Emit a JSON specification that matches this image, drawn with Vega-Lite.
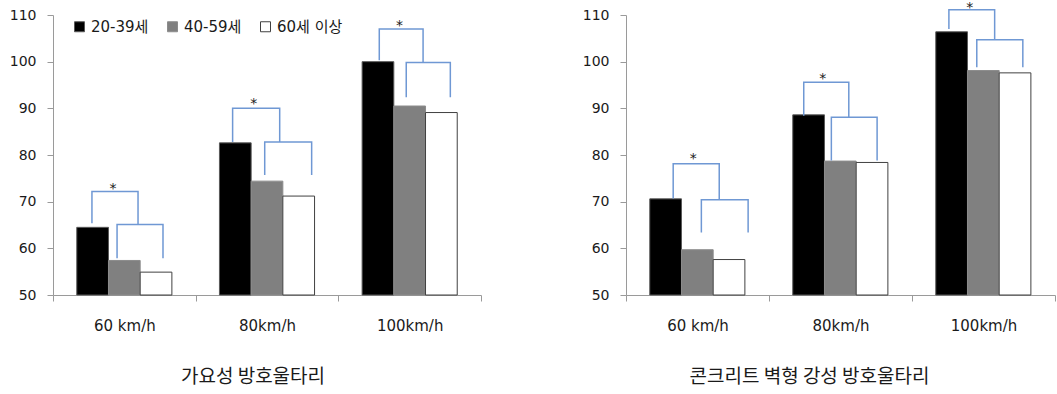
{
  "$schema": "https://vega.github.io/schema/vega-lite/v6.json",
  "padding": {"left": 9, "top": 0, "right": 0, "bottom": 0},
  "background": "white",
  "spacing": 100,
  "config": {
    "view": {"stroke": null},
    "axis": {"domainColor": "#9a9a9a", "tickColor": "#9a9a9a", "labelColor": "#1a1a1a", "labelFont": "DejaVu Sans", "grid": false, "tickSize": 6},
    "axisY": {"labelFontSize": 14, "labelPadding": 11},
    "axisX": {"labelFontSize": 15, "labelPadding": 17, "labelAngle": 0, "tickBand": "extent"},
    "legend": {"orient": "none", "direction": "horizontal", "symbolType": "square", "symbolSize": 100, "labelFontSize": 15, "labelFont": "DejaVu Sans, Noto Sans CJK KR", "labelColor": "#1a1a1a", "columnPadding": 16, "labelOffset": 4, "symbolStrokeWidth": 1},
    "title": {"font": "Noto Sans CJK KR", "fontSize": 19, "fontWeight": "normal", "color": "#1a1a1a", "orient": "bottom", "anchor": "middle", "frame": "group", "offset": 35}
  },
  "hconcat": [
    {
      "width": 428,
      "height": 280,
      "title": {"text": "가요성 방호울타리", "dx": -14},
      "layer": [
        {
          "data": {"values": [
            {"speed": "60 km/h", "age": "20-39세", "value": 64.5},
            {"speed": "60 km/h", "age": "40-59세", "value": 57.4},
            {"speed": "60 km/h", "age": "60세 이상", "value": 54.9},
            {"speed": "80km/h", "age": "20-39세", "value": 82.6},
            {"speed": "80km/h", "age": "40-59세", "value": 74.4},
            {"speed": "80km/h", "age": "60세 이상", "value": 71.2},
            {"speed": "100km/h", "age": "20-39세", "value": 100.0},
            {"speed": "100km/h", "age": "40-59세", "value": 90.5},
            {"speed": "100km/h", "age": "60세 이상", "value": 89.1}
          ]},
          "mark": {"type": "bar", "strokeWidth": 1},
          "encoding": {
            "x": {"field": "speed", "type": "nominal", "sort": ["60 km/h", "80km/h", "100km/h"], "scale": {"paddingInner": 0, "paddingOuter": 0}, "axis": {"title": null}},
            "xOffset": {"field": "age", "type": "nominal", "sort": ["20-39세", "40-59세", "60세 이상"], "scale": {"paddingInner": 0, "paddingOuter": 0.75}},
            "y": {"field": "value", "type": "quantitative", "scale": {"domain": [50, 110], "zero": false, "nice": false}, "axis": {"title": null, "values": [50, 60, 70, 80, 90, 100, 110]}},
            "y2": {"datum": 50},
            "fill": {"field": "age", "type": "nominal", "sort": ["20-39세", "40-59세", "60세 이상"], "scale": {"domain": ["20-39세", "40-59세", "60세 이상"], "range": ["#000000", "#808080", "#ffffff"]}, "legend": {"title": null, "legendX": 19, "legendY": 4}},
            "stroke": {"field": "age", "type": "nominal", "sort": ["20-39세", "40-59세", "60세 이상"], "scale": {"domain": ["20-39세", "40-59세", "60세 이상"], "range": ["#595959", "#8c8c8c", "#404040"]}, "legend": {"title": null, "legendX": 19, "legendY": 4}}
          }
        },
        {
          "data": {"values": [
            {"id": "L60o", "ord": 1, "pos": 0.273, "val": 65.4},
            {"id": "L60o", "ord": 2, "pos": 0.273, "val": 72.2},
            {"id": "L60o", "ord": 3, "pos": 0.596, "val": 72.2},
            {"id": "L60o", "ord": 4, "pos": 0.596, "val": 65.1},
            {"id": "L60i", "ord": 1, "pos": 0.449, "val": 57.9},
            {"id": "L60i", "ord": 2, "pos": 0.449, "val": 65.1},
            {"id": "L60i", "ord": 3, "pos": 0.771, "val": 65.1},
            {"id": "L60i", "ord": 4, "pos": 0.771, "val": 57.9},
            {"id": "L80o", "ord": 1, "pos": 1.259, "val": 82.8},
            {"id": "L80o", "ord": 2, "pos": 1.259, "val": 90.0},
            {"id": "L80o", "ord": 3, "pos": 1.589, "val": 90.0},
            {"id": "L80o", "ord": 4, "pos": 1.589, "val": 82.8},
            {"id": "L80i", "ord": 1, "pos": 1.484, "val": 75.7},
            {"id": "L80i", "ord": 2, "pos": 1.484, "val": 82.8},
            {"id": "L80i", "ord": 3, "pos": 1.813, "val": 82.8},
            {"id": "L80i", "ord": 4, "pos": 1.813, "val": 75.7},
            {"id": "L100o", "ord": 1, "pos": 2.287, "val": 100.3},
            {"id": "L100o", "ord": 2, "pos": 2.287, "val": 107.0},
            {"id": "L100o", "ord": 3, "pos": 2.594, "val": 107.0},
            {"id": "L100o", "ord": 4, "pos": 2.594, "val": 99.8},
            {"id": "L100i", "ord": 1, "pos": 2.476, "val": 92.4},
            {"id": "L100i", "ord": 2, "pos": 2.476, "val": 99.8},
            {"id": "L100i", "ord": 3, "pos": 2.785, "val": 99.8},
            {"id": "L100i", "ord": 4, "pos": 2.785, "val": 92.4}
          ]},
          "mark": {"type": "line", "color": "#6f98d4", "strokeWidth": 1.5},
          "encoding": {
            "x": {"field": "pos", "type": "quantitative", "scale": {"domain": [0, 3], "nice": false, "zero": false}, "axis": null},
            "y": {"field": "val", "type": "quantitative", "scale": {"domain": [50, 110], "zero": false, "nice": false}},
            "detail": {"field": "id"},
            "order": {"field": "ord"}
          }
        },
        {
          "data": {"values": [
            {"t": "*", "pos": 0.42, "val": 73.4},
            {"t": "*", "pos": 1.408, "val": 91.5},
            {"t": "*", "pos": 2.428, "val": 108.3}
          ]},
          "mark": {"type": "text", "fontSize": 14, "font": "DejaVu Sans", "color": "#1a1a1a", "baseline": "middle", "dy": 3},
          "encoding": {
            "x": {"field": "pos", "type": "quantitative", "scale": {"domain": [0, 3], "nice": false, "zero": false}, "axis": null},
            "y": {"field": "val", "type": "quantitative", "scale": {"domain": [50, 110], "zero": false, "nice": false}},
            "text": {"field": "t"}
          }
        }
      ],
      "resolve": {"scale": {"x": "independent"}}
    },
    {
      "width": 429,
      "height": 280,
      "title": {"text": "콘크리트 벽형 강성 방호울타리", "dx": -31},
      "layer": [
        {
          "data": {"values": [
            {"speed": "60 km/h", "age": "20-39세", "value": 70.6},
            {"speed": "60 km/h", "age": "40-59세", "value": 59.7},
            {"speed": "60 km/h", "age": "60세 이상", "value": 57.6},
            {"speed": "80km/h", "age": "20-39세", "value": 88.6},
            {"speed": "80km/h", "age": "40-59세", "value": 78.7},
            {"speed": "80km/h", "age": "60세 이상", "value": 78.4},
            {"speed": "100km/h", "age": "20-39세", "value": 106.4},
            {"speed": "100km/h", "age": "40-59세", "value": 98.1},
            {"speed": "100km/h", "age": "60세 이상", "value": 97.6}
          ]},
          "mark": {"type": "bar", "strokeWidth": 1},
          "encoding": {
            "x": {"field": "speed", "type": "nominal", "sort": ["60 km/h", "80km/h", "100km/h"], "scale": {"paddingInner": 0, "paddingOuter": 0}, "axis": {"title": null}},
            "xOffset": {"field": "age", "type": "nominal", "sort": ["20-39세", "40-59세", "60세 이상"], "scale": {"paddingInner": 0, "paddingOuter": 0.75}},
            "y": {"field": "value", "type": "quantitative", "scale": {"domain": [50, 110], "zero": false, "nice": false}, "axis": {"title": null, "values": [50, 60, 70, 80, 90, 100, 110]}},
            "y2": {"datum": 50},
            "fill": {"field": "age", "type": "nominal", "sort": ["20-39세", "40-59세", "60세 이상"], "scale": {"domain": ["20-39세", "40-59세", "60세 이상"], "range": ["#000000", "#808080", "#ffffff"]}, "legend": {"title": null, "legendX": 10, "legendY": 10}},
            "stroke": {"field": "age", "type": "nominal", "sort": ["20-39세", "40-59세", "60세 이상"], "scale": {"domain": ["20-39세", "40-59세", "60세 이상"], "range": ["#595959", "#8c8c8c", "#404040"]}, "legend": {"title": null, "legendX": 10, "legendY": 10}}
          }
        },
        {
          "data": {"values": [
            {"id": "R60o", "ord": 1, "pos": 0.33, "val": 70.7},
            {"id": "R60o", "ord": 2, "pos": 0.33, "val": 78.1},
            {"id": "R60o", "ord": 3, "pos": 0.652, "val": 78.1},
            {"id": "R60o", "ord": 4, "pos": 0.652, "val": 70.4},
            {"id": "R60i", "ord": 1, "pos": 0.527, "val": 63.4},
            {"id": "R60i", "ord": 2, "pos": 0.527, "val": 70.4},
            {"id": "R60i", "ord": 3, "pos": 0.854, "val": 70.4},
            {"id": "R60i", "ord": 4, "pos": 0.854, "val": 63.4},
            {"id": "R80o", "ord": 1, "pos": 1.243, "val": 88.4},
            {"id": "R80o", "ord": 2, "pos": 1.243, "val": 95.6},
            {"id": "R80o", "ord": 3, "pos": 1.558, "val": 95.6},
            {"id": "R80o", "ord": 4, "pos": 1.558, "val": 88.1},
            {"id": "R80i", "ord": 1, "pos": 1.436, "val": 78.8},
            {"id": "R80i", "ord": 2, "pos": 1.436, "val": 88.1},
            {"id": "R80i", "ord": 3, "pos": 1.756, "val": 88.1},
            {"id": "R80i", "ord": 4, "pos": 1.756, "val": 78.8},
            {"id": "R100o", "ord": 1, "pos": 2.258, "val": 107.0},
            {"id": "R100o", "ord": 2, "pos": 2.258, "val": 111.1},
            {"id": "R100o", "ord": 3, "pos": 2.578, "val": 111.1},
            {"id": "R100o", "ord": 4, "pos": 2.578, "val": 104.7},
            {"id": "R100i", "ord": 1, "pos": 2.453, "val": 98.8},
            {"id": "R100i", "ord": 2, "pos": 2.453, "val": 104.7},
            {"id": "R100i", "ord": 3, "pos": 2.775, "val": 104.7},
            {"id": "R100i", "ord": 4, "pos": 2.775, "val": 98.8}
          ]},
          "mark": {"type": "line", "color": "#6f98d4", "strokeWidth": 1.5},
          "encoding": {
            "x": {"field": "pos", "type": "quantitative", "scale": {"domain": [0, 3], "nice": false, "zero": false}, "axis": null},
            "y": {"field": "val", "type": "quantitative", "scale": {"domain": [50, 110], "zero": false, "nice": false}},
            "detail": {"field": "id"},
            "order": {"field": "ord"}
          }
        },
        {
          "data": {"values": [
            {"t": "*", "pos": 0.471, "val": 79.7},
            {"t": "*", "pos": 1.376, "val": 97.0},
            {"t": "*", "pos": 2.404, "val": 112.2}
          ]},
          "mark": {"type": "text", "fontSize": 14, "font": "DejaVu Sans", "color": "#1a1a1a", "baseline": "middle", "dy": 3},
          "encoding": {
            "x": {"field": "pos", "type": "quantitative", "scale": {"domain": [0, 3], "nice": false, "zero": false}, "axis": null},
            "y": {"field": "val", "type": "quantitative", "scale": {"domain": [50, 110], "zero": false, "nice": false}},
            "text": {"field": "t"}
          }
        }
      ],
      "resolve": {"scale": {"x": "independent"}}
    }
  ]
}
